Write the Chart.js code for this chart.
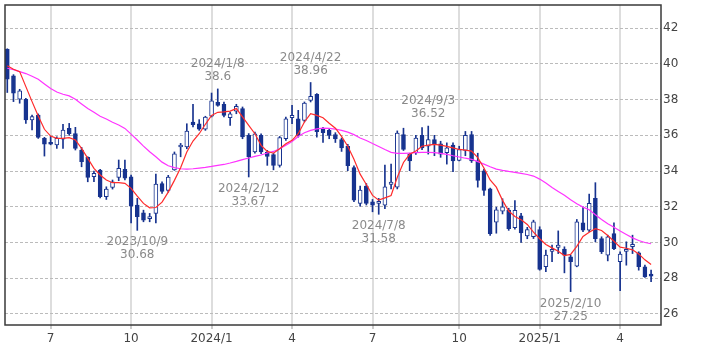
<!DOCTYPE html>
<html>
<head>
<meta charset="utf-8">
<script src="https://cdn.jsdelivr.net/npm/chart.js@4.4.1/dist/chart.umd.min.js"></script>
<style>
html, body { margin: 0; padding: 0; background: #fff; }
#wrap { width: 709px; height: 354px; }
</style>
</head>
<body>
<div id="wrap"><canvas id="chart"></canvas></div>
<script>
// weekly candles, week 0 = 2023/5/15 ... week 104 = 2025/5/12
var openPrices = [
  40.82, 39.33, 38.02, 38.02, 36.86, 37.14, 35.83, 35.55, 35.46, 35.78,
  36.4, 36.1, 35.18, 34.77, 33.68, 34.05, 32.56, 33.08, 33.64, 34.1,
  33.68, 32.1, 31.66, 31.33, 31.63, 33.3, 32.92, 34.07, 35.35, 35.35,
  36.75, 36.65, 36.34, 37.07, 37.85, 37.74, 36.99, 37.36, 37.5, 36.0,
  35.07, 36.0, 35.07, 34.93, 34.32, 35.81, 36.99, 36.93, 36.84, 37.96,
  38.3, 36.38, 36.28, 36.05, 35.76, 35.39, 34.2, 32.19, 33.16, 32.28,
  32.19, 32.09, 33.25, 33.1, 36.04, 34.94, 35.03, 36.0, 35.39, 35.76,
  35.52, 35.03, 35.45, 34.6, 35.16, 36.04, 34.57, 34.02, 33.0, 31.14,
  31.75, 31.81, 30.83, 31.5, 30.37, 30.32, 30.73, 28.64, 29.5, 29.72,
  29.63, 29.2, 28.67, 31.1, 30.69, 32.47, 30.22, 29.29, 30.5, 28.92,
  29.5, 29.76, 29.42, 28.64, 28.15
];
var highPrices = [
  40.85, 39.4, 38.58, 38.07, 37.14, 37.2, 35.89, 35.95, 35.92, 36.62,
  36.67, 36.45, 35.33, 34.8, 34.0, 34.1, 33.12, 33.5, 34.62, 34.62,
  33.78, 32.47, 31.81, 31.63, 33.83, 33.4, 33.76, 35.07, 35.55, 36.65,
  37.74, 36.88, 37.07, 38.37, 38.6, 37.87, 37.31, 37.74, 37.59, 36.1,
  36.19, 36.09, 35.16, 35.0, 35.94, 37.03, 37.68, 37.4, 37.87, 38.96,
  38.34, 36.45, 36.37, 36.15, 35.85, 35.5, 34.3, 33.16, 33.3, 32.41,
  32.47, 34.33, 34.39, 36.25, 36.4, 35.0, 36.0, 36.44, 36.52, 36.0,
  35.67, 35.58, 35.58, 35.39, 36.22, 36.22, 35.0, 34.11, 33.05, 31.98,
  32.45, 31.92, 32.35, 31.63, 30.85, 31.25, 30.88, 29.57, 29.85, 30.65,
  29.76, 29.29, 31.29, 32.0, 32.71, 33.35, 30.32, 30.41, 31.1, 29.48,
  30.04, 30.41, 29.48, 28.73, 28.45
];
var lowPrices = [
  38.4, 37.89, 37.8, 36.67, 36.3, 35.83, 34.84, 35.47, 35.27, 35.27,
  36.0, 35.18, 34.24, 33.4, 33.4, 32.5, 32.41, 32.99, 33.46, 33.5,
  31.1, 30.68, 31.16, 31.16, 31.1, 32.75, 32.82, 34.04, 34.8, 35.25,
  36.47, 36.28, 36.28, 37.03, 37.63, 37.03, 36.56, 37.21, 35.81, 33.67,
  35.0, 34.97, 34.32, 34.07, 34.22, 35.72, 36.65, 35.9, 36.75, 37.87,
  35.9, 35.6, 35.81, 35.6, 35.1, 34.02, 32.28, 32.04, 32.1, 31.72,
  31.58, 31.9, 33.0, 33.0, 35.15, 34.02, 34.93, 35.2, 34.95, 34.86,
  34.77, 34.39, 33.96, 34.57, 34.86, 34.48, 33.1, 32.64, 30.4, 30.52,
  31.6, 30.68, 30.75, 30.0, 30.21, 30.22, 28.45, 28.36, 28.92, 29.38,
  28.3, 27.25, 28.64, 30.6, 30.6, 30.04, 29.38, 28.97, 29.6, 27.3,
  28.73, 29.38, 28.45, 28.04, 27.8
];
var closePrices = [
  39.14, 38.36, 38.5, 36.86, 37.05, 35.89, 35.5, 35.5, 35.83, 36.3,
  36.1, 35.27, 34.52, 33.64, 33.87, 32.56, 32.99, 33.4, 34.15, 33.6,
  32.04, 31.44, 31.25, 31.45, 33.27, 32.86, 33.66, 34.97, 35.45, 36.24,
  36.6, 36.34, 37.03, 37.93, 37.68, 37.12, 37.21, 37.63, 35.91, 34.79,
  36.09, 35.07, 34.82, 34.32, 35.87, 36.93, 37.12, 36.0, 37.81, 38.19,
  36.2, 36.15, 36.0, 35.8, 35.3, 34.3, 32.37, 32.93, 32.19, 32.09,
  32.28, 33.12, 33.38, 36.13, 35.21, 34.57, 35.85, 35.3, 35.76, 35.52,
  34.94, 35.3, 34.57, 35.21, 36.0, 34.57, 33.47, 32.92, 30.5, 31.83,
  32.0, 30.78, 31.8, 30.54, 30.72, 31.16, 28.49, 29.29, 29.6, 29.85,
  29.29, 28.92, 31.16, 30.69, 32.19, 30.22, 29.48, 30.32, 29.66, 29.35,
  29.6, 29.9, 28.64, 28.07, 28.12
];
var ma13 = [
  39.9, 39.7, 39.57, 38.73, 37.89, 37.08, 36.34, 35.96, 35.83, 35.83,
  35.87, 35.74, 35.27, 34.71, 34.15, 33.78, 33.5, 33.35, 33.35, 33.31,
  33.03, 32.6, 32.19, 31.94, 31.96, 32.26, 32.82, 33.48, 34.19, 35.07,
  35.68, 36.09, 36.62, 37.12, 37.29, 37.31, 37.36, 37.5, 37.03, 36.56,
  36.09, 35.44, 35.1, 35.0, 35.25, 35.53, 35.72, 36.09, 36.75, 37.21,
  37.12, 36.99, 36.68, 36.4, 35.94, 35.39, 34.66, 33.83, 33.25, 32.64,
  32.37, 32.5, 32.63, 33.65, 34.48, 34.94, 35.12, 35.39, 35.45, 35.49,
  35.45, 35.38, 35.3, 35.21, 35.17, 35.12, 34.75, 34.17, 33.5, 33.1,
  32.36, 31.76, 31.46, 31.27, 31.01, 30.58, 30.21, 29.89, 29.7, 29.51,
  29.27, 29.33, 29.78, 30.34, 30.58, 30.77, 30.67, 30.39, 30.07, 29.74,
  29.68, 29.59, 29.36, 29.03, 28.77
];
var ma26 = [
  39.76, 39.68, 39.57, 39.46, 39.31, 39.14, 38.88, 38.62, 38.43, 38.3,
  38.21, 38.02, 37.76, 37.51, 37.29, 37.07, 36.92, 36.73, 36.58, 36.39,
  36.07, 35.74, 35.4, 35.08, 34.8, 34.5, 34.3, 34.19, 34.13, 34.11,
  34.13, 34.17, 34.21, 34.26, 34.32, 34.37, 34.45, 34.54, 34.64, 34.73,
  34.82, 34.9, 35.01, 35.1, 35.25, 35.44, 35.66, 35.94, 36.15, 36.28,
  36.36, 36.41, 36.39, 36.35, 36.28, 36.18, 36.04, 35.85, 35.71, 35.54,
  35.38, 35.21, 35.05, 34.99, 34.99, 35.01, 35.03, 35.05, 35.05, 35.03,
  34.99, 34.94, 34.86, 34.79, 34.72, 34.66, 34.53, 34.39, 34.24, 34.11,
  34.04, 33.98, 33.93, 33.87, 33.81, 33.72, 33.55, 33.33, 33.08, 32.86,
  32.64, 32.39, 32.17, 31.98, 31.83, 31.55, 31.29, 31.05, 30.86, 30.64,
  30.45, 30.26, 30.11, 30.0, 29.93
];
var tickWeeks = [7, 20, 33, 46, 59, 73, 86, 99];
var tickLabels = ['7', '10', '2024/1', '4', '7', '10', '2025/1', '4'];
var yTicks = [26, 28, 30, 32, 34, 36, 38, 40, 42];
var noteWeeks = [34, 49, 68, 21, 39, 60, 91];
var noteDates = ['2024/1/8', '2024/4/22', '2024/9/3', '2023/10/9', '2024/2/12', '2024/7/8', '2025/2/10'];
var noteSides = ['high', 'high', 'high', 'low', 'low', 'low', 'low'];

var navy = '#17338f';
var fontName = "'DejaVu Sans', Verdana, sans-serif";

var wickData = [];
var bodyData = [];
var ma13Data = [];
var ma26Data = [];
for (var i = 0; i < openPrices.length; i++) {
  wickData.push({x: i, y: [lowPrices[i], highPrices[i]]});
  bodyData.push({x: i, y: [openPrices[i], closePrices[i]]});
  ma13Data.push({x: i, y: ma13[i]});
  ma26Data.push({x: i, y: ma26[i]});
}

function isUp(i) {
  return closePrices[i] >= openPrices[i];
}

// dark frame round the plot area
var framePlugin = {
  id: 'frame',
  afterDraw: function(chart) {
    var a = chart.chartArea;
    var ctx = chart.ctx;
    ctx.save();
    ctx.strokeStyle = '#3a3a3a';
    ctx.lineWidth = 1.5;
    ctx.strokeRect(a.left, a.top, a.right - a.left, a.bottom - a.top);
    ctx.restore();
  }
};

// high / low notes above and below the marked candles
var notesPlugin = {
  id: 'notes',
  afterDatasetsDraw: function(chart) {
    var ctx = chart.ctx;
    var xs = chart.scales.x;
    var ys = chart.scales.y;
    ctx.save();
    ctx.font = '12px ' + fontName;
    ctx.fillStyle = '#8a8a8a';
    ctx.textAlign = 'center';
    ctx.textBaseline = 'middle';
    for (var n = 0; n < noteWeeks.length; n++) {
      var w = noteWeeks[n];
      var px = xs.getPixelForValue(w);
      if (noteSides[n] == 'high') {
        var py = ys.getPixelForValue(highPrices[w]);
        ctx.fillText(noteDates[n], px, py - 25);
        ctx.fillText(String(highPrices[w]), px, py - 12);
      } else {
        var py2 = ys.getPixelForValue(lowPrices[w]);
        ctx.fillText(noteDates[n], px, py2 + 12);
        ctx.fillText(String(lowPrices[w]), px, py2 + 25);
      }
    }
    ctx.restore();
  }
};

new Chart(document.getElementById('chart'), {
  type: 'bar',
  data: {
    datasets: [
      {
        type: 'line', data: ma13Data, borderColor: '#ff2b2b', borderWidth: 1.2,
        pointRadius: 0, tension: 0, fill: false, order: 0
      },
      {
        type: 'line', data: ma26Data, borderColor: '#ff33ff', borderWidth: 1.2,
        pointRadius: 0, tension: 0, fill: false, order: 1
      },
      {
        data: bodyData, grouped: false, barThickness: 4, minBarLength: 2,
        borderSkipped: false, borderWidth: 1, borderColor: navy,
        backgroundColor: function(c) { return isUp(c.dataIndex) ? '#ffffff' : navy; },
        order: 2
      },
      {
        data: wickData, grouped: false, barThickness: 1, borderWidth: 0,
        backgroundColor: navy, order: 3
      }
    ]
  },
  options: {
    responsive: true,
    maintainAspectRatio: false,
    animation: false,
    devicePixelRatio: 1,
    layout: { padding: { left: 5, top: 5, right: 0, bottom: 0 } },
    plugins: { legend: { display: false }, tooltip: { enabled: false } },
    scales: {
      x: {
        type: 'linear',
        min: -0.37,
        max: 105.6,
        offset: false,
        afterBuildTicks: function(scale) {
          scale.ticks = tickWeeks.map(function(v) { return {value: v}; });
        },
        afterFit: function(scale) {
          scale.height = 29;
          scale.paddingLeft = 0;
          scale.paddingRight = 0;
        },
        ticks: {
          autoSkip: false,
          maxRotation: 0,
          padding: 3,
          color: '#444',
          font: { family: fontName, size: 12 },
          callback: function(value, index) { return tickLabels[index]; }
        },
        grid: { color: '#dddddd', lineWidth: 2, offset: false, drawTicks: true, tickLength: 4, tickColor: '#999', tickWidth: 1 },
        border: { display: false }
      },
      y: {
        position: 'right',
        min: 25.38,
        max: 43.3,
        afterBuildTicks: function(scale) {
          scale.ticks = yTicks.map(function(v) { return {value: v}; });
        },
        afterFit: function(scale) {
          scale.width = 48;
          scale.paddingTop = 0;
          scale.paddingBottom = 0;
        },
        ticks: {
          padding: 2,
          color: '#444',
          font: { family: fontName, size: 12 }
        },
        grid: { color: '#bbbbbb', lineWidth: 1, drawTicks: false },
        border: { display: false, dash: [3, 2] }
      }
    }
  },
  plugins: [framePlugin, notesPlugin]
});
</script>
</body>
</html>
